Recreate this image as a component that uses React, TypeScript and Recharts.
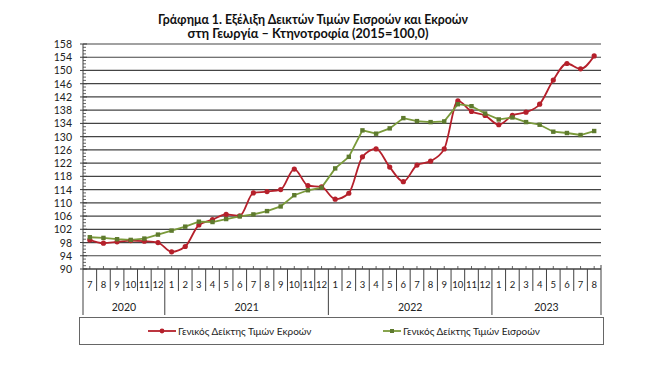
import React from "react";
import { LineChart, Line, XAxis, YAxis, CartesianGrid, Legend } from "recharts";

const months = [7, 8, 9, 10, 11, 12, 1, 2, 3, 4, 5, 6, 7, 8, 9, 10, 11, 12, 1, 2, 3, 4, 5, 6, 7, 8, 9, 10, 11, 12, 1, 2, 3, 4, 5, 6, 7, 8];
const years = [2020, 2020, 2020, 2020, 2020, 2020, 2021, 2021, 2021, 2021, 2021, 2021, 2021, 2021, 2021, 2021, 2021, 2021, 2022, 2022, 2022, 2022, 2022, 2022, 2022, 2022, 2022, 2022, 2022, 2022, 2023, 2023, 2023, 2023, 2023, 2023, 2023, 2023];

const outputs = [98.8, 97.8, 98.2, 98.6, 98.4, 98.0, 95.2, 96.8, 103.3, 104.9, 106.5, 106.1, 113.0, 113.4, 114.0, 120.2, 115.2, 114.8, 111.1, 112.9, 123.9, 126.3, 120.8, 116.4, 121.4, 122.6, 126.3, 140.8, 137.6, 136.4, 133.6, 136.4, 137.4, 139.8, 147.1, 152.1, 150.5, 154.4];
const inputs = [99.6, 99.4, 99.0, 98.8, 99.2, 100.4, 101.6, 102.8, 104.3, 104.2, 105.1, 105.9, 106.5, 107.5, 108.9, 112.3, 113.8, 114.6, 120.4, 123.9, 131.9, 130.9, 132.5, 135.6, 134.7, 134.4, 134.6, 139.8, 139.2, 137.0, 135.2, 135.8, 134.4, 133.6, 131.5, 131.1, 130.5, 131.7];

const majorTicks = [90, 94, 98, 102, 106, 110, 114, 118, 122, 126, 130, 134, 138, 142, 146, 150, 154, 158];
const allTicks: number[] = [];
for (let v = 90; v <= 158; v++) allTicks.push(v);

const outputsName = "Γενικός Δείκτης Τιμών Εκροών";
const inputsName = "Γενικός Δείκτης Τιμών Εισροών";
const titleLine1 = "Γράφημα 1. Εξέλιξη Δεικτών Τιμών Εισροών και Εκροών";
const titleLine2 = "στη Γεωργία – Κτηνοτροφία (2015=100,0)";

const data = months.map((m, i) => ({
  key: `${years[i]}-${m}`,
  month: m,
  year: years[i],
  out: outputs[i],
  inp: inputs[i],
}));

const FONT = "Lato, 'Open Sans', sans-serif";
const AXIS = "#404040";
const RED = "#B5202B";
const GREEN = "#7A9A3A";
const GREEN_DARK = "#5E7A2E";

const YTick = (props: any) => {
  const { x, y, payload } = props;
  const v = payload.value;
  const isMajor = majorTicks.includes(v);
  if (isMajor) {
    return (
      <g>
        <line x1={x - 3} x2={x + 4} y1={y} y2={y} stroke={AXIS} strokeWidth={1} />
        <text x={x - 11} y={y} textAnchor="end" dominantBaseline="central" fontSize={10.5} fill="#222" fontFamily={FONT}>
          {v}
        </text>
      </g>
    );
  }
  return <line x1={x} x2={x + 3} y1={y} y2={y} stroke={AXIS} strokeWidth={0.8} />;
};

const XTick = (props: any) => {
  const { x, y, payload, width } = props;
  const i = payload.index;
  const n = data.length;
  const w = (width || 517) / n;
  const left = x - w / 2;
  const right = x + w / 2;
  const isYearStart = i === 0 || data[i].year !== data[i - 1].year;
  const isLast = i === n - 1;
  let yearLabel: React.ReactNode = null;
  if (isYearStart) {
    let count = 0;
    for (let j = i; j < n && data[j].year === data[i].year; j++) count++;
    yearLabel = (
      <text x={left + (count * w) / 2} y={y + 38} textAnchor="middle" dominantBaseline="central" fontSize={10.5} fill="#222" fontFamily={FONT}>
        {data[i].year}
      </text>
    );
  }
  return (
    <g>
      <line x1={x} x2={x} y1={y - 3} y2={y} stroke={AXIS} strokeWidth={0.8} />
      <line x1={left} x2={left} y1={y} y2={isYearStart ? y + 46 : y + 22} stroke={AXIS} strokeWidth={1} />
      {isLast && <line x1={right} x2={right} y1={y - 4} y2={y + 46} stroke={AXIS} strokeWidth={1} />}
      <text x={x} y={y + 15} textAnchor="middle" dominantBaseline="central" fontSize={9.5} fill="#222" fontFamily={FONT}>
        {data[i].month}
      </text>
      {yearLabel}
    </g>
  );
};

const RedDot = (props: any) => {
  const { cx, cy } = props;
  if (cx == null || cy == null) return null;
  return <circle cx={cx} cy={cy} r={2.6} fill={RED} stroke="none" />;
};
const GreenDot = (props: any) => {
  const { cx, cy } = props;
  if (cx == null || cy == null) return null;
  return <rect x={cx - 2.2} y={cy - 2.2} width={4.4} height={4.4} fill={GREEN_DARK} stroke="none" />;
};

const renderLegend = (props: any) => {
  const payload = props.payload || [];
  const posFor: Record<string, { lineL: number; lineW: number; textL: number }> = {
    out: { lineL: 68, lineW: 28, textL: 98 },
    inp: { lineL: 303, lineW: 18, textL: 323 },
  };
  return (
    <div
      style={{
        boxSizing: "border-box",
        width: 525,
        height: 28,
        border: "1.5px solid #666",
        position: "relative",
        fontFamily: FONT,
        fontSize: 10,
        color: "#222",
        background: "#fff",
      }}
    >
      {payload.map((p: any, k: number) => {
        const q = posFor[p.dataKey] || posFor.out;
        const isRed = p.dataKey === "out";
        return (
          <div key={k}>
            <svg style={{ position: "absolute", left: q.lineL, top: 8, overflow: "visible" }} width={q.lineW} height={10}>
              <line x1={0} x2={q.lineW} y1={5} y2={5} stroke={p.color} strokeWidth={1.8} />
              {isRed ? (
                <circle cx={q.lineW / 2} cy={5} r={2.4} fill={RED} />
              ) : (
                <rect x={q.lineW / 2 - 2} y={3} width={4} height={4} fill={GREEN_DARK} />
              )}
            </svg>
            <span style={{ position: "absolute", left: q.textL, top: 0, lineHeight: "26px", whiteSpace: "nowrap" }}>{p.value}</span>
          </div>
        );
      })}
    </div>
  );
};

export default function App() {
  return (
    <div style={{ position: "absolute", left: 0, top: 0, width: 670, height: 365, background: "#fff" }}>
      <svg width={670} height={42} style={{ position: "absolute", left: 0, top: 0 }}>
        <text x={313} y={24} textAnchor="middle" fontSize={12.5} fontWeight={700} fontFamily={FONT} fill="#111" textLength={310} lengthAdjust="spacingAndGlyphs">
          {titleLine1}
        </text>
        <text x={308} y={37.5} textAnchor="middle" fontSize={12.5} fontWeight={700} fontFamily={FONT} fill="#111" textLength={241} lengthAdjust="spacingAndGlyphs">
          {titleLine2}
        </text>
      </svg>
      <LineChart width={670} height={365} data={data} margin={{ top: 44, right: 69, left: 43, bottom: 20 }}>
        <CartesianGrid horizontal={true} vertical={false} stroke="#444" strokeWidth={1.2} horizontalValues={majorTicks} />
        <XAxis
          dataKey="key"
          scale="band"
          interval={0}
          tickLine={false}
          tickSize={0}
          tickMargin={0}
          axisLine={{ stroke: AXIS, strokeWidth: 1 }}
          tick={<XTick />}
          height={48}
        />
        <YAxis
          domain={[90, 158]}
          ticks={allTicks}
          interval={0}
          tickLine={false}
          tickSize={0}
          tickMargin={0}
          width={40}
          axisLine={{ stroke: AXIS, strokeWidth: 1 }}
          tick={<YTick />}
          allowDataOverflow
        />
        <Legend verticalAlign="bottom" content={renderLegend} wrapperStyle={{ left: 79, bottom: 20, width: 525, height: 28 }} />
        <Line
          type="monotone"
          dataKey="out"
          name={outputsName}
          stroke={RED}
          strokeWidth={1.8}
          dot={<RedDot />}
          activeDot={false}
          isAnimationActive={false}
        />
        <Line
          type="linear"
          dataKey="inp"
          name={inputsName}
          stroke={GREEN}
          strokeWidth={1.8}
          dot={<GreenDot />}
          activeDot={false}
          isAnimationActive={false}
        />
      </LineChart>
    </div>
  );
}
